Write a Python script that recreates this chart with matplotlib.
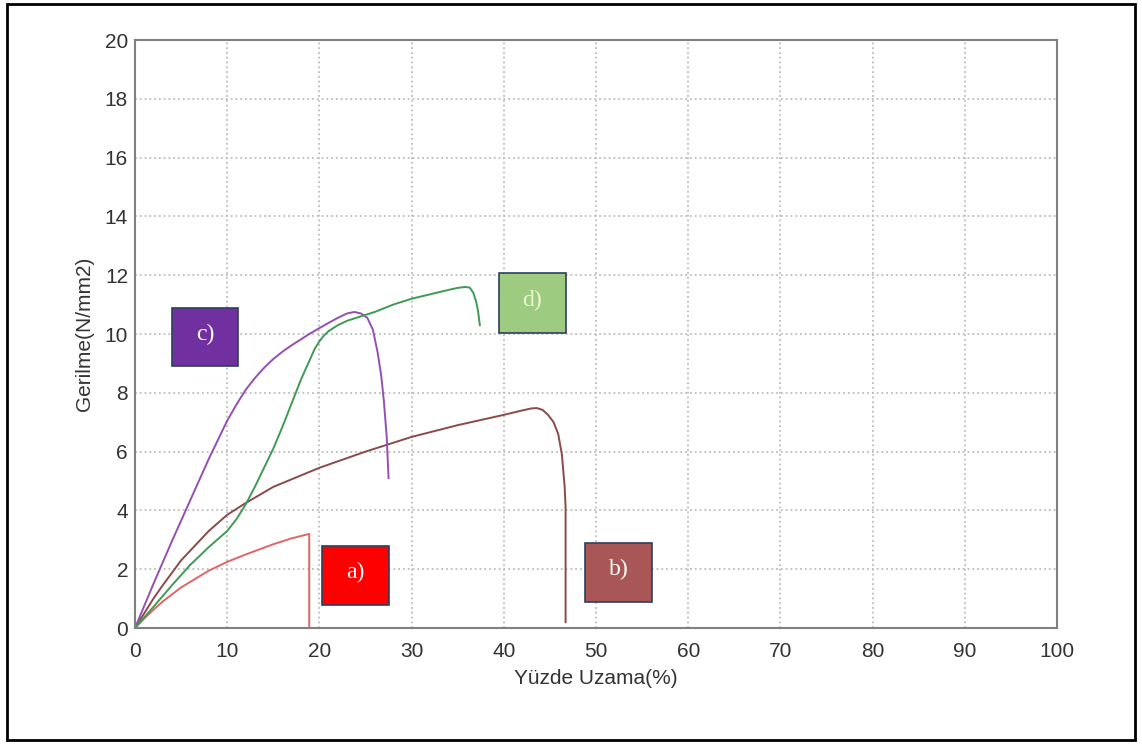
import matplotlib.pyplot as plt
from matplotlib.patches import Rectangle

# stress-strain curves (strain %, stress N/mm2)
a_x = [0, 1, 2, 3, 5, 8, 10, 12, 15, 17, 18.5, 18.9, 18.9]
a_y = [0, 0.32, 0.62, 0.9, 1.38, 1.95, 2.25, 2.5, 2.85, 3.05, 3.17, 3.2, 0]

b_x = [0, 1, 2, 3, 5, 8, 10, 12, 15, 20, 25, 30, 35, 40, 42, 43, 43.6, 44.2, 44.8,
       45.4, 45.9, 46.3, 46.6, 46.7, 46.7]
b_y = [0, 0.5, 1.0, 1.45, 2.3, 3.3, 3.85, 4.25, 4.8, 5.45, 6.0, 6.5, 6.9, 7.25, 7.4,
       7.47, 7.48, 7.42, 7.25, 7.0, 6.6, 5.9, 4.8, 4.1, 0.2]

c_x = [0, 2, 4, 6, 8, 10, 11, 12, 13, 14, 15, 16, 17, 18, 19, 20, 21, 22, 23, 23.8,
       24.5, 25.2, 25.8, 26.3, 26.7, 27.0, 27.3, 27.5]
c_y = [0, 1.5, 2.95, 4.35, 5.75, 7.05, 7.6, 8.1, 8.5, 8.85, 9.15, 9.4, 9.62, 9.82,
       10.02, 10.2, 10.38, 10.55, 10.7, 10.75, 10.7, 10.55, 10.15, 9.4, 8.6, 7.7, 6.5, 5.1]

d_x = [0, 2, 4, 6, 8, 10, 11, 12, 13, 14, 15, 16, 17, 18, 19, 19.5, 20, 20.5, 21, 22,
       23, 24, 26, 28, 30, 32, 34, 35, 35.8, 36.3, 36.7, 37.0, 37.2, 37.4]
d_y = [0, 0.72, 1.45, 2.15, 2.75, 3.3, 3.7, 4.2, 4.8, 5.45, 6.1, 6.85, 7.65, 8.45,
       9.15, 9.5, 9.75, 9.95, 10.1, 10.3, 10.45, 10.55, 10.75, 11.0, 11.2, 11.35, 11.5,
       11.57, 11.6, 11.58, 11.4, 11.1, 10.8, 10.3]

labels = ['a)', 'b)', 'c)', 'd)']
box_colors = ['#ff0000', '#a85656', '#7030a0', '#9dcb80']
text_colors = ['white', 'white', 'white', '#eef6d0']
line_colors = ['#e06666', '#8a4a4a', '#9450b0', '#3f9a55']
# label boxes: (x0, y0, width, height) in data units
boxes = [(20.3, 0.78, 7.2, 2.0), (48.8, 0.88, 7.3, 2.0),
         (4.0, 8.9, 7.2, 2.0), (39.5, 10.03, 7.2, 2.04)]

fig = plt.figure(figsize=(11.42, 7.44), dpi=100)
ax = fig.add_axes([0.1182, 0.1559, 0.8074, 0.7903])

curves = [(a_x, a_y), (b_x, b_y), (c_x, c_y), (d_x, d_y)]
for (x, y), col in zip(curves, line_colors):
    ax.plot(x, y, color=col, lw=1.4)

for lab, fc, tc, (x0, y0, w, h) in zip(labels, box_colors, text_colors, boxes):
    ax.add_patch(Rectangle((x0, y0), w, h, facecolor=fc, edgecolor='#2e3f5e', lw=1.2, zorder=3))
    ax.text(x0 + w / 2, y0 + h / 2 + 0.1, lab, color=tc, fontsize=17,
            family='Liberation Serif', ha='center', va='center', zorder=4)

ax.set_xlim(0, 100)
ax.set_ylim(0, 20)
ax.set_xticks(range(0, 101, 10))
ax.set_yticks(range(0, 21, 2))
ax.grid(True, color='#bdbdbd', linestyle=':', lw=1.3)
ax.tick_params(length=0, labelsize=15, labelcolor='#333333')
ax.tick_params(axis='x', pad=10)
ax.tick_params(axis='y', pad=5)
for s in ax.spines.values():
    s.set_color('#808080')
    s.set_linewidth(1.5)
ax.set_xlabel('Yüzde Uzama(%)', fontsize=15, color='#333333', family='Liberation Sans', labelpad=6)
ax.set_ylabel('Gerilme(N/mm2)', fontsize=15, color='#333333', family='Liberation Sans', labelpad=8)
for t in ax.get_xticklabels() + ax.get_yticklabels():
    t.set_family('Liberation Sans')

# outer frame
fig.patches.append(Rectangle((0.006, 0.005), 0.988, 0.99, transform=fig.transFigure,
                             fill=False, edgecolor='black', lw=2))

plt.savefig('out.png', dpi=100)
